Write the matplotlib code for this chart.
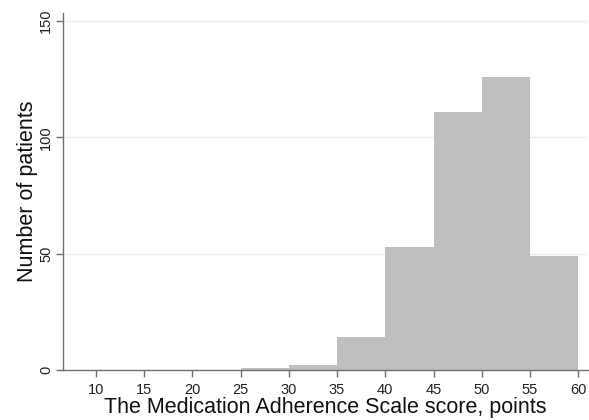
import matplotlib
matplotlib.use("Agg")
import matplotlib.pyplot as plt
import numpy as np

bin_edges = [25, 30, 35, 40, 45, 50, 55, 60]
counts = [1, 2, 14, 53, 111, 126, 49]
xticks = [10, 15, 20, 25, 30, 35, 40, 45, 50, 55, 60]
yticks = [0, 50, 100, 150]

plt.rcParams['font.family'] = ['Liberation Sans', 'DejaVu Sans']

fig = plt.figure(figsize=(5.89, 4.2), dpi=100)
ax = fig.add_axes([0.107, 0.119, 0.891, 0.850])

lefts = bin_edges[:-1]
widths = np.diff(bin_edges)
ax.bar(lefts, counts, width=widths, align='edge', color='#bfbfbf', edgecolor='none', zorder=2)

ax.set_xlim(6.58, 61.0)
ax.set_ylim(0, 153.5)
ax.set_xticks(xticks)
ax.set_yticks(yticks)
ax.set_yticklabels([str(v) for v in yticks], rotation=90, va='center')
for y in yticks[1:]:
    ax.axhline(y, color='#e6eff1', lw=1.0, zorder=1)

for s in ['top', 'right']:
    ax.spines[s].set_visible(False)
for s in ['left', 'bottom']:
    ax.spines[s].set_color('#707070')
    ax.spines[s].set_linewidth(1.0)
ax.tick_params(axis='both', colors='#707070', labelcolor='#222222', length=5, width=1.0, labelsize=10.5)
ax.tick_params(axis='x', pad=4)
ax.tick_params(axis='y', pad=2)

ax.set_xlabel('The Medication Adherence Scale score, points', fontsize=15.5, color='#111111', labelpad=0.5)
ax.set_ylabel('Number of patients', fontsize=15.5, color='#111111', labelpad=1)

fig.savefig('out.png', dpi=100, facecolor='white')
